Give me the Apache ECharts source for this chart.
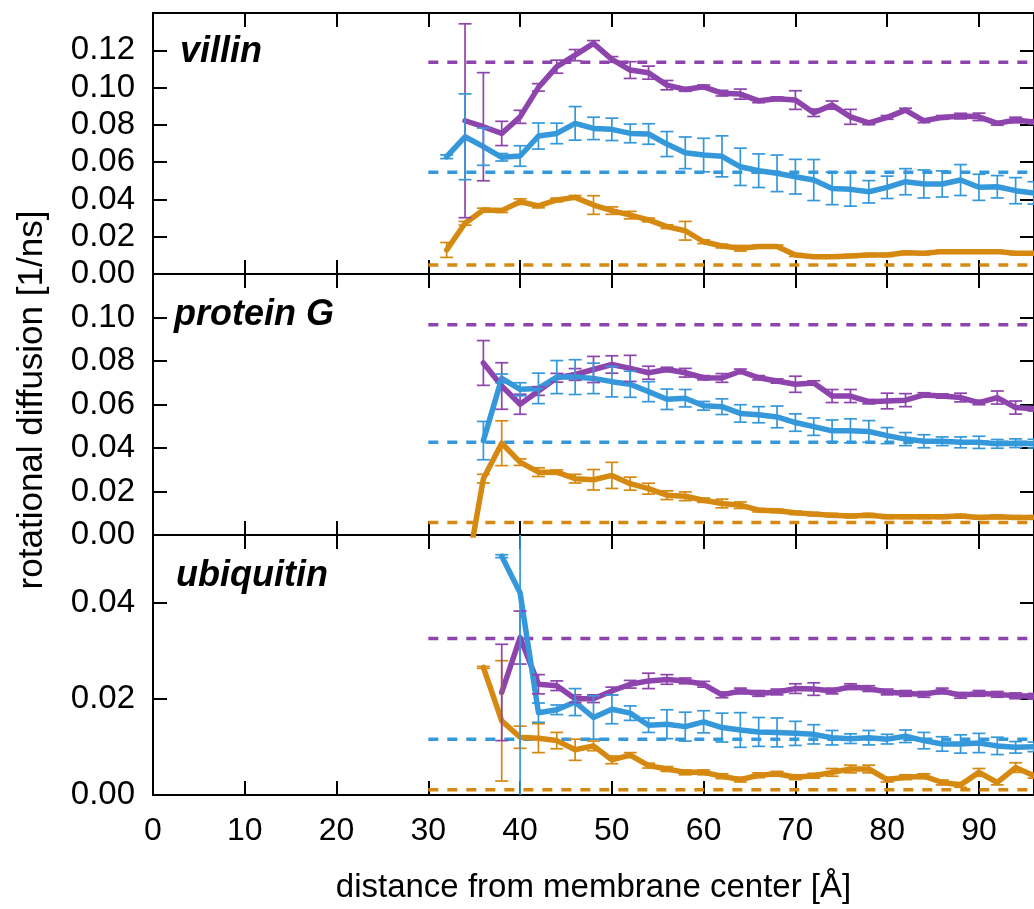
<!DOCTYPE html>
<html><head><meta charset="utf-8">
<script src="https://cdn.jsdelivr.net/npm/echarts@6/dist/echarts.min.js"></script>
<style>html,body{margin:0;padding:0;background:#fff}#c{width:1034px;height:909px}</style>
</head><body><div id="c"></div>
<script>
// ---------- data ----------
const distance = [32,34,36,38,40,42,44,46,48,50,52,54,56,58,60,62,64,66,68,70,72,74,76,78,80,82,84,86,88,90,92,94,96];
const xTicks = [0,10,20,30,40,50,60,70,80,90];
const panelNames = ['villin','protein G','ubiquitin'];
const panelYMax = [0.14, 0.12, 0.054];

const villinPurple = [null,0.0822,0.0790,0.0754,0.0843,0.1001,0.1112,0.1174,0.1237,0.1151,0.1094,0.1080,0.1013,0.0990,0.1004,0.0970,0.0965,0.0929,0.0940,0.0933,0.0865,0.0906,0.0843,0.0811,0.0840,0.0879,0.0822,0.0840,0.0847,0.0843,0.0808,0.0826,0.0815];
const villinPurpleErr = [null,0.052,0.029,0.0065,0.0035,0.002,0.0035,0.003,0.0015,0.0015,0.0045,0.0035,0.0025,0.001,0.001,0.0015,0.0027,0.001,0.001,0.005,0.002,0.0022,0.004,0.001,0.001,0.001,0.001,0.001,0.0015,0.002,0.001,0.0015,0.001];
const villinBlue = [0.0629,0.0736,0.0683,0.0626,0.0633,0.0740,0.0754,0.0808,0.0781,0.0776,0.0754,0.0751,0.0697,0.0650,0.0638,0.0631,0.0575,0.0554,0.0540,0.0522,0.0504,0.0459,0.0454,0.0441,0.0465,0.0495,0.0483,0.0483,0.0504,0.0465,0.0468,0.0447,0.0435];
const villinBlueErr = [0.001,0.023,0.010,0.002,0.0055,0.007,0.0055,0.009,0.006,0.006,0.005,0.0055,0.0067,0.0085,0.009,0.011,0.010,0.009,0.0098,0.0093,0.011,0.0087,0.009,0.006,0.006,0.007,0.0075,0.007,0.0083,0.007,0.006,0.007,0.006];
const villinOrange = [0.0129,0.0272,0.0343,0.0340,0.0388,0.0365,0.0397,0.0411,0.0370,0.0340,0.0316,0.0290,0.0254,0.0232,0.0173,0.0150,0.0138,0.0147,0.0147,0.0102,0.0093,0.0093,0.0097,0.0102,0.0102,0.0114,0.0111,0.0120,0.0120,0.0120,0.0120,0.0111,0.0111];
const villinOrangeErr = [0.004,0.001,0.001,0.001,0.0015,0.001,0.001,0.001,0.005,0.002,0.002,0.001,0.001,0.005,0.001,0.001,0.0015,0.0008,0.0008,0.0008,0.0008,0.0008,0.0008,0.0008,0.0008,0.0008,0.0008,0.0008,0.0008,0.0008,0.0008,0.0008,0.0008];

const protGPurple = [null,null,0.0791,0.0685,0.0601,0.0662,0.0723,0.0738,0.0761,0.0784,0.0766,0.0746,0.0761,0.0746,0.0723,0.0722,0.0753,0.0723,0.0708,0.0693,0.0699,0.0639,0.0639,0.0613,0.0616,0.0620,0.0644,0.0639,0.0632,0.0609,0.0632,0.0586,0.0580];
const protGPurpleErr = [null,null,0.0103,0.0107,0.0046,0.002,0.002,0.0027,0.006,0.004,0.006,0.003,0.001,0.002,0.001,0.002,0.001,0.001,0.001,0.0037,0.001,0.003,0.003,0.001,0.0036,0.003,0.001,0.001,0.002,0.001,0.003,0.003,0.001];
const protGBlue = [null,null,0.0434,0.0720,0.0670,0.0674,0.0726,0.0726,0.0720,0.0705,0.0693,0.0659,0.0624,0.0629,0.0594,0.0590,0.0559,0.0553,0.0543,0.0517,0.0498,0.0479,0.0479,0.0476,0.0457,0.0441,0.0431,0.0431,0.0426,0.0426,0.0419,0.0422,0.0420];
const protGBlueErr = [null,null,0.0088,0.002,0.003,0.007,0.0076,0.008,0.007,0.007,0.006,0.0046,0.0047,0.004,0.002,0.0036,0.004,0.0037,0.005,0.004,0.004,0.005,0.0055,0.005,0.0037,0.003,0.003,0.002,0.0025,0.0028,0.002,0.002,0.002];
const protGOrange = [null,-0.022,0.0259,0.0422,0.0335,0.0289,0.0289,0.0259,0.0254,0.0274,0.0236,0.0213,0.0183,0.0178,0.0160,0.0145,0.0137,0.0114,0.0111,0.0102,0.0096,0.0091,0.0087,0.0091,0.0084,0.0084,0.0084,0.0084,0.0087,0.0081,0.0084,0.0081,0.0081];
const protGOrangeErr = [null,null,0.002,0.0103,0.0015,0.002,0.001,0.002,0.0047,0.006,0.003,0.0025,0.002,0.002,0.001,0.002,0.0015,0.0008,0.0008,0.0008,0.0008,0.0008,0.0008,0.0008,0.0008,0.0008,0.0008,0.0008,0.0008,0.0008,0.0008,0.0008,0.0008];

const ubiqPurple = [null,null,null,0.0213,0.0327,0.0230,0.0227,0.0200,0.0200,0.0216,0.0230,0.0237,0.0240,0.0237,0.0230,0.0208,0.0216,0.0211,0.0214,0.0221,0.0220,0.0216,0.0225,0.0221,0.0214,0.0211,0.0209,0.0216,0.0207,0.0211,0.0209,0.0206,0.0205];
const ubiqPurpleErr = [null,null,null,0.010,0.0055,0.002,0.001,0.0008,0.0008,0.0008,0.0008,0.0016,0.001,0.0006,0.0006,0.0006,0.0006,0.0006,0.0006,0.001,0.0013,0.0006,0.0006,0.0006,0.0006,0.0006,0.0006,0.0006,0.0006,0.0006,0.0006,0.0006,0.0006];
const ubiqBlue = [null,null,null,0.0496,0.0420,0.0171,0.0177,0.0193,0.0161,0.0178,0.0170,0.0145,0.0147,0.0142,0.0152,0.0140,0.0135,0.0131,0.0130,0.0128,0.0126,0.0119,0.0117,0.0119,0.0116,0.0122,0.0113,0.0106,0.0106,0.0108,0.0102,0.0099,0.0100];
const ubiqBlueErr = [null,null,null,0.0003,0.06,0.002,0.001,0.0028,0.0045,0.003,0.0015,0.0015,0.003,0.003,0.0023,0.003,0.0036,0.003,0.003,0.0025,0.002,0.0015,0.001,0.0015,0.001,0.0013,0.0017,0.0015,0.0019,0.002,0.0018,0.0012,0.001];
const ubiqOrange = [null,null,0.0265,0.0154,0.0120,0.0118,0.0113,0.0094,0.0102,0.0073,0.0083,0.0061,0.0054,0.0047,0.0047,0.0039,0.0032,0.0041,0.0044,0.0037,0.0040,0.0047,0.0054,0.0054,0.0032,0.0037,0.0039,0.0026,0.0021,0.0047,0.0026,0.0057,0.0040];
const ubiqOrangeErr = [null,null,0.0002,0.0125,0.0023,0.003,0.0017,0.0022,0.001,0.0008,0.0005,0.0005,0.0005,0.0005,0.0005,0.0005,0.0005,0.0005,0.0005,0.0005,0.0005,0.0008,0.0008,0.0008,0.0005,0.0005,0.0005,0.0005,0.0005,0.0008,0.0005,0.001,0.0005];

// reference (dashed) levels: [purple, blue, orange]
const villinRef = [0.1136, 0.0546, 0.0048];
const protGRef = [0.0967, 0.0427, 0.0057];
const ubiqRef = [0.0325, 0.0116, 0.0011];
const refStart = 30, refEnd = 96;

// ---------- chart ----------
const COLORS = {purple:'#8e44ad', blue:'#3498db', orange:'#d68910'};
const FONT = "'Liberation Sans', Arial, sans-serif";
const X_MAX = 96;
const gridTops = [13, 274, 535];
const gridHeights = [261, 261, 260];

const panels = [
  {purple:[villinPurple,villinPurpleErr], blue:[villinBlue,villinBlueErr], orange:[villinOrange,villinOrangeErr], ref:villinRef},
  {purple:[protGPurple,protGPurpleErr], blue:[protGBlue,protGBlueErr], orange:[protGOrange,protGOrangeErr], ref:protGRef},
  {purple:[ubiqPurple,ubiqPurpleErr], blue:[ubiqBlue,ubiqBlueErr], orange:[ubiqOrange,ubiqOrangeErr], ref:ubiqRef}
];

const grids = [], xAxes = [], yAxes = [], series = [];
const tickStyle = {show:true, inside:true, length:14, lineStyle:{color:'#000', width:2}};
const lineAx = {show:true, onZero:false, lineStyle:{color:'#000', width:2}};

function errRender(color){
  return function(params, api){
    const x = api.value(0), lo = api.value(1), hi = api.value(2);
    const p1 = api.coord([x, hi]), p2 = api.coord([x, lo]);
    const hw = 6.5;
    const st = {stroke: color, lineWidth: 1.7, fill: null};
    return {type:'group', children:[
      {type:'line', shape:{x1:p1[0], y1:p1[1], x2:p2[0], y2:p2[1]}, style:st},
      {type:'line', shape:{x1:p1[0]-hw, y1:p1[1], x2:p1[0]+hw, y2:p1[1]}, style:st},
      {type:'line', shape:{x1:p2[0]-hw, y1:p2[1], x2:p2[0]+hw, y2:p2[1]}, style:st}
    ]};
  };
}

panels.forEach((p, i) => {
  grids.push({left:153, top:gridTops[i], width:X_MAX*9.28, height:gridHeights[i], show:false});
  const isLast = i === 2;
  xAxes.push({
    type:'value', gridIndex:i, position:'bottom', min:0, max:X_MAX, interval:10,
    axisLine:lineAx, axisTick:tickStyle, splitLine:{show:false},
    axisLabel:{show:isLast, margin:20, fontSize:32, color:'#000', fontFamily:FONT, showMaxLabel:false,
      formatter: v => (xTicks.indexOf(v) >= 0 ? String(v) : '')},
    name: isLast ? 'distance from membrane center [Å]' : '',
    nameLocation:'middle', nameGap:76,
    nameTextStyle:{fontSize:33, color:'#000', fontFamily:FONT}
  });
  xAxes.push({
    type:'value', gridIndex:i, position:'top', min:0, max:X_MAX, interval:10,
    axisLine:lineAx, axisTick:tickStyle, splitLine:{show:false}, axisLabel:{show:false}
  });
  yAxes.push({
    type:'value', gridIndex:i, position:'left', min:0, max:panelYMax[i], interval:0.02,
    axisLine:lineAx, axisTick:tickStyle, splitLine:{show:false},
    axisLabel:{margin:18, fontSize:33, color:'#000', fontFamily:FONT, showMaxLabel:false,
      formatter: v => v.toFixed(2)}
  });
  yAxes.push({
    type:'value', gridIndex:i, position:'right', min:0, max:panelYMax[i], interval:0.02,
    axisLine:lineAx, axisTick:tickStyle, splitLine:{show:false}, axisLabel:{show:false}
  });

  const order = ['orange','purple','blue'];
  const refIdx = {purple:0, blue:1, orange:2};
  order.forEach(col => {
    const color = COLORS[col];
    series.push({
      type:'line', xAxisIndex:2*i, yAxisIndex:2*i, silent:true, symbol:'none',
      data:[[refStart, p.ref[refIdx[col]]],[refEnd, p.ref[refIdx[col]]]],
      lineStyle:{color, width:3.5, type:[10,9]}, z:2
    });
  });
  order.forEach(col => {
    const color = COLORS[col];
    const vals = p[col][0], errs = p[col][1];
    const lineData = [], errData = [];
    distance.forEach((d, k) => {
      if (vals[k] !== null) lineData.push([d, vals[k]]);
      if (vals[k] !== null && errs[k] !== null) errData.push([d, vals[k]-errs[k], vals[k]+errs[k]]);
    });
    series.push({
      type:'line', xAxisIndex:2*i, yAxisIndex:2*i, silent:true, symbol:'none', clip:true,
      data:lineData, lineStyle:{color, width:5.5, join:'round', cap:'round'}, z:3
    });
    series.push({
      type:'custom', xAxisIndex:2*i, yAxisIndex:2*i, silent:true, clip:true,
      renderItem: errRender(color), data:errData, encode:{x:0, y:[1,2]}, z:4
    });
  });
});

const labelFont = "italic bold 36px 'Liberation Sans', Arial, sans-serif";
const chart = echarts.init(document.getElementById('c'), null, {renderer:'canvas'});
chart.setOption({
  animation:false,
  backgroundColor:'#fff',
  grid:grids, xAxis:xAxes, yAxis:yAxes, series:series,
  graphic:[
    {type:'text', x:180, y:52, style:{text:panelNames[0], font:labelFont, fill:'#000', verticalAlign:'middle'}},
    {type:'text', x:174, y:315, style:{text:panelNames[1], font:labelFont, fill:'#000', verticalAlign:'middle'}},
    {type:'text', x:176, y:576, style:{text:panelNames[2], font:labelFont, fill:'#000', verticalAlign:'middle'}},
    {type:'text', x:32, y:400, rotation:Math.PI/2,
      style:{text:'rotational diffusion [1/ns]', font:"35px 'Liberation Sans', Arial, sans-serif", fill:'#000', align:'center', verticalAlign:'middle'}}
  ]
});
</script>
</body></html>
